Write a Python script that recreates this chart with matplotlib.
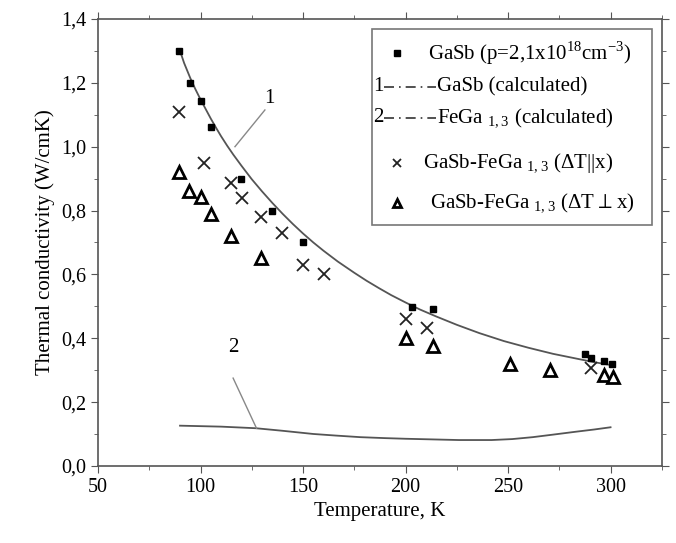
import matplotlib
matplotlib.use("Agg")
from matplotlib import pyplot as plt
from matplotlib.ticker import MultipleLocator, FuncFormatter
from matplotlib.patches import Rectangle

plt.rcParams['font.family'] = ['Liberation Serif', 'DejaVu Serif']
plt.rcParams['mathtext.fontset'] = 'custom'
plt.rcParams['mathtext.rm'] = 'Liberation Serif'

# GaSb measured (p=2,1x10^18 cm^-3)
t_gasb = [89.6, 94.8, 100, 104.9, 119.8, 135, 150, 203.2, 213.4, 287.7, 290.5, 297, 300.6]
k_gasb = [1.30, 1.20, 1.143, 1.063, 0.90, 0.80, 0.70, 0.499, 0.49, 0.349, 0.337, 0.33, 0.32]

# GaSb-FeGa1,3, dT || x
t_par = [89.5, 101.8, 114.8, 120, 129.7, 139.8, 150, 160.3, 200.4, 210.5, 290.6]
k_par = [1.11, 0.95, 0.885, 0.84, 0.78, 0.73, 0.63, 0.60, 0.46, 0.433, 0.306]

# GaSb-FeGa1,3, dT perp x
t_perp = [89.6, 94.5, 100, 105, 115.1, 129.7, 200.4, 213.4, 250.8, 270.6, 296.6, 301.1]
k_perp = [0.92, 0.86, 0.843, 0.79, 0.72, 0.65, 0.40, 0.377, 0.32, 0.30, 0.285, 0.28]

# curve 1: GaSb calculated
t_calc1 = [90, 92, 95, 97.5, 100, 102.5, 105, 107.5, 110, 113, 116, 120, 125, 130, 135, 140,
           145, 150, 155, 160, 167, 175, 181, 187, 193, 200, 207, 215, 225, 236, 248, 260,
           272, 285, 292, 300]
k_calc1 = [1.30, 1.262, 1.215, 1.18, 1.148, 1.118, 1.088, 1.06, 1.033, 1.003, 0.975, 0.94,
           0.898, 0.86, 0.824, 0.79, 0.758, 0.728, 0.70, 0.674, 0.64, 0.605, 0.58, 0.557,
           0.535, 0.512, 0.49, 0.468, 0.442, 0.416, 0.391, 0.37, 0.351, 0.334, 0.325, 0.316]

# curve 2: FeGa1,3 calculated
t_calc2 = [90, 110, 127, 140, 155, 166, 178, 190, 200, 213, 226, 242, 252, 262, 272, 283, 292, 300]
k_calc2 = [0.126, 0.123, 0.118, 0.11, 0.10, 0.095, 0.09, 0.087, 0.085, 0.083, 0.081, 0.081,
           0.084, 0.09, 0.098, 0.107, 0.114, 0.121]

fig = plt.figure(figsize=(6.76, 5.43), dpi=100)
ax = fig.add_axes([0.145, 0.142, 0.834, 0.823])

ax.plot(t_calc1, k_calc1, color='#555555', lw=1.3)
ax.plot(t_calc2, k_calc2, color='#555555', lw=1.3)
ax.plot(t_gasb, k_gasb, 's', color='black', ms=4.5)
ax.plot(t_par, k_par, 'x', color='#222222', ms=8, mew=1.3)
ax.plot(t_perp, k_perp, '^', mfc='white', mec='black', ms=8, mew=2)

# curve labels with leader lines
ax.plot([131.4, 116.8], [1.115, 1.0], color='#888888', lw=1)
ax.text(133.8, 1.15, '1', fontsize=15, ha='center', va='center')
ax.plot([115.9, 127.3], [0.275, 0.118], color='#888888', lw=1)
ax.text(116, 0.372, '2', fontsize=15, ha='center', va='center')

ax.set_xlim(50, 325)
ax.set_ylim(0, 1.4)
ax.xaxis.set_major_locator(MultipleLocator(50))
ax.xaxis.set_minor_locator(MultipleLocator(25))
ax.yaxis.set_major_locator(MultipleLocator(0.2))
ax.yaxis.set_minor_locator(MultipleLocator(0.1))
ax.yaxis.set_major_formatter(FuncFormatter(lambda v, p: ('%.1f' % v).replace('.', ',')))
ax.tick_params(which='both', top=True, right=True, labelsize=14.5, color='#555555')
ax.tick_params(which='major', length=5)
ax.tick_params(which='minor', length=3)
for s in ax.spines.values():
    s.set_color('#555555')
    s.set_linewidth(1.2)

ax.set_xlabel('Temperature, K', fontsize=15)
ax.set_ylabel('Thermal conductivity (W/cmK)', fontsize=15)

# hand-made legend box
tr = ax.transAxes
def ax_xy(px, py):
    return (px - 98) / 564.0, (466 - py) / 447.0

x0, y0 = ax_xy(372, 225)
x1, y1 = ax_xy(652, 29)
ax.add_patch(Rectangle((x0, y0), x1 - x0, y1 - y0, transform=tr, fill=False,
                       ec='#777777', lw=1.2, zorder=5))

mx, _ = ax_xy(397, 0)
rows = [53, 87, 118, 163, 203]
_, r = ax_xy(0, rows[0])
ax.plot([mx], [r], 's', color='black', ms=4.5, transform=tr, clip_on=False)
tx, _ = ax_xy(428, 0)
ax.text(tx, r, r'GaSb (p=2,1x10$^{18}$cm$^{-3}$)', transform=tr, fontsize=15, va='center')

lx0, _ = ax_xy(384, 0)
lx1, _ = ax_xy(436, 0)
for i, (num, lab) in enumerate([('1', 'GaSb (calculated)'),
                                ('2', r'FeGa$_{\ 1,3}$ (calculated)')]):
    _, r = ax_xy(0, rows[1 + i])
    ax.text(ax_xy(373, 0)[0], r, num, transform=tr, fontsize=15, va='center')
    ax.plot([lx0, lx1], [r, r], color='#333333', lw=1.2, ls=(0, (6, 3, 1, 3)), transform=tr)
    ax.text(ax_xy(437, 0)[0], r, lab, transform=tr, fontsize=15, va='center')

_, r = ax_xy(0, rows[3])
ax.plot([mx], [r], 'x', color='#222222', ms=6, mew=1.3, transform=tr)
ax.text(ax_xy(423, 0)[0], r, r'GaSb-FeGa$_{\ 1,3}$ ($\Delta$T||x)', transform=tr, fontsize=15, va='center')
_, r = ax_xy(0, rows[4])
ax.plot([mx], [r], '^', mfc='white', mec='black', ms=6, mew=2, transform=tr)
ax.text(ax_xy(430, 0)[0], r, r'GaSb-FeGa$_{\ 1,3}$ ($\Delta$T${\perp}$x)', transform=tr, fontsize=15, va='center')

fig.savefig('out.png', dpi=100)
